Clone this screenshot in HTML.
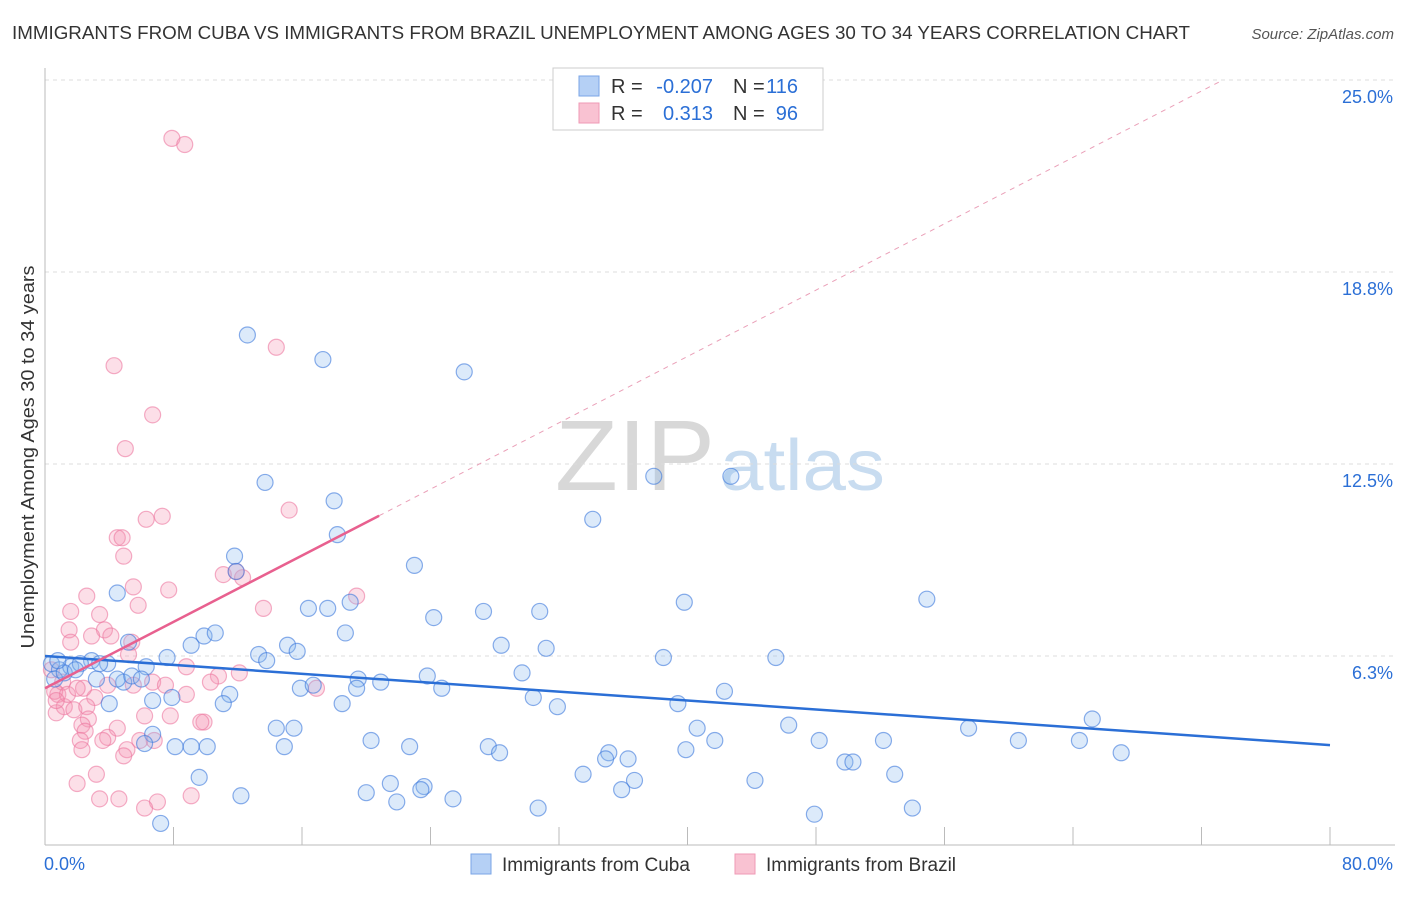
<!DOCTYPE html>
<html><head><meta charset="utf-8"><style>
body{margin:0;background:#fff;font-family:"Liberation Sans",sans-serif;}
svg text{font-family:"Liberation Sans",sans-serif;}
</style></head><body>
<svg id="chart" width="1406" height="892" xmlns="http://www.w3.org/2000/svg">
<text x="12" y="39" font-size="18" fill="#333" textLength="1178" lengthAdjust="spacingAndGlyphs">IMMIGRANTS FROM CUBA VS IMMIGRANTS FROM BRAZIL UNEMPLOYMENT AMONG AGES 30 TO 34 YEARS CORRELATION CHART</text>
<text x="1394" y="39" font-size="15" fill="#555" font-style="italic" text-anchor="end">Source: ZipAtlas.com</text>
<text x="555" y="490" font-size="100" fill="#d8d8d8" textLength="160" lengthAdjust="spacingAndGlyphs" font-family="Liberation Serif">ZIP</text>
<text x="720" y="490" font-size="72" fill="#c8dcf0" textLength="165" lengthAdjust="spacingAndGlyphs">atlas</text>
<g id="grid"></g><g id="axes"></g><g id="pts"></g><g id="lines"></g>
<text transform="translate(34,457) rotate(-90)" font-size="18" fill="#333" text-anchor="middle" textLength="383" lengthAdjust="spacingAndGlyphs">Unemployment Among Ages 30 to 34 years</text>
<g>
<rect x="553" y="68" width="270" height="62" fill="#fff" stroke="#ccc"/>
<rect x="579" y="76" width="20" height="20" fill="#b5d0f5" stroke="#7aa5e6"/>
<rect x="579" y="103" width="20" height="20" fill="#f9c2d2" stroke="#ef9ab5"/>
<text x="611" y="93" font-size="20" fill="#333">R =</text>
<text x="713" y="93" font-size="20" fill="#2b6fd6" text-anchor="end">-0.207</text>
<text x="733" y="93" font-size="20" fill="#333">N =</text>
<text x="798" y="93" font-size="20" fill="#2b6fd6" text-anchor="end">116</text>
<text x="611" y="120" font-size="20" fill="#333">R =</text>
<text x="713" y="120" font-size="20" fill="#2b6fd6" text-anchor="end">0.313</text>
<text x="733" y="120" font-size="20" fill="#333">N =</text>
<text x="798" y="120" font-size="20" fill="#2b6fd6" text-anchor="end">96</text>
</g>
<g>
<rect x="471" y="854" width="20" height="20" fill="#b5d0f5" stroke="#7aa5e6"/>
<text x="502" y="871" font-size="19" fill="#333">Immigrants from Cuba</text>
<rect x="735" y="854" width="20" height="20" fill="#f9c2d2" stroke="#ef9ab5"/>
<text x="766" y="871" font-size="19" fill="#333">Immigrants from Brazil</text>
</g>
</svg>
<script>
const yTicks=[25.0,18.8,12.5,6.3];
const yTickVals=[25,18.75,12.5,6.25];
const xTickLabels=["0.0%","80.0%"];
const cubaX=[12.6,17.3,26.1,13.7,18.0,18.2,34.1,37.9,42.7,11.8,11.9,23.0,4.5,16.4,17.6,19.0,24.2,27.3,30.8,39.8,54.9,9.9,10.6,9.1,5.2,18.7,15.1,15.7,13.3,13.8,7.6,6.3,2.9,3.9,28.4,31.2,38.5,45.5,29.7,19.5,20.9,23.8,15.9,16.7,19.4,24.7,11.5,7.9,4.9,4.0,6.7,11.1,18.5,30.4,31.9,39.4,42.3,14.4,15.5,40.6,46.3,57.5,65.2,6.7,6.2,8.1,9.1,10.1,14.9,20.3,22.7,27.6,28.3,35.1,34.9,36.3,39.9,41.7,48.2,49.8,50.3,52.2,60.6,64.4,67.0,9.6,21.5,23.6,23.4,33.5,36.7,44.2,52.9,12.2,20.0,21.9,25.4,35.9,30.7,47.9,54.0,7.2,0.4,0.9,1.6,2.2,0.6,1.2,3.2,4.5,5.4,6.0,0.8,1.9,3.4];
const cubaY=[16.7,15.9,15.5,11.9,11.3,10.2,10.7,12.1,12.1,9.5,9.0,9.2,8.3,7.8,7.8,8.0,7.5,7.7,7.7,8.0,8.1,6.9,7.0,6.6,6.7,7.0,6.6,6.4,6.3,6.1,6.2,5.9,6.1,6.0,6.6,6.5,6.2,6.2,5.7,5.5,5.4,5.6,5.2,5.3,5.2,5.2,5.0,4.9,5.4,4.7,4.8,4.7,4.7,4.9,4.6,4.7,5.1,3.9,3.9,3.9,4.0,3.9,4.2,3.7,3.4,3.3,3.3,3.3,3.3,3.5,3.3,3.3,3.1,3.1,2.9,2.9,3.2,3.5,3.5,2.8,2.8,3.5,3.5,3.5,3.1,2.3,2.1,2.0,1.9,2.4,2.2,2.2,2.4,1.7,1.8,1.5,1.6,1.9,1.3,1.1,1.3,0.8,6.0,5.8,5.9,6.0,5.5,5.7,5.5,5.5,5.6,5.5,6.1,5.8,6.0];
const brazilX=[7.9,8.7,14.4,4.3,6.7,5.0,7.3,6.3,15.2,4.5,4.8,4.9,11.1,12.3,11.9,5.5,7.7,2.6,19.4,5.8,1.6,3.4,13.6,1.5,3.7,4.1,2.9,5.4,1.6,5.2,8.8,10.8,12.1,6.7,5.5,7.5,8.8,10.3,16.9,3.9,3.1,2.4,0.8,1.2,1.8,2.6,0.7,6.2,7.8,9.9,2.7,2.3,4.5,2.5,3.9,2.2,3.6,5.9,6.8,2.3,5.1,4.9,3.2,2.0,3.4,4.6,7.0,9.1,6.2,9.7,0.4,1.1,0.6,1.4,0.7,2.0];
const brazilY=[23.1,22.9,16.3,15.7,14.1,13.0,10.8,10.7,11.0,10.1,10.1,9.5,8.9,8.8,9.0,8.5,8.4,8.2,8.2,7.9,7.7,7.6,7.8,7.1,7.1,6.9,6.9,6.7,6.7,6.3,5.9,5.6,5.7,5.4,5.3,5.3,5.0,5.4,5.2,5.3,4.9,5.2,5.0,4.6,4.5,4.6,4.4,4.3,4.3,4.1,4.2,4.0,3.9,3.8,3.6,3.5,3.5,3.5,3.5,3.2,3.2,3.0,2.4,2.1,1.6,1.6,1.5,1.7,1.3,4.1,5.8,5.4,5.1,5.0,4.8,5.2];
const cubaTrend=[6.25,3.35];      // value at x=0 and x=80
const brazilTrend=[5.2,0.27];     // intercept, slope
const NS="http://www.w3.org/2000/svg";
const X0=45,X1=1330,Y0=848;
const sx=v=>X0+(v/80)*(X1-X0);
const sy=v=>Y0-v*30.72;
function mk(tag,attrs,parent){const e=document.createElementNS(NS,tag);for(const k in attrs)e.setAttribute(k,attrs[k]);document.getElementById(parent).appendChild(e);return e;}
yTickVals.forEach((v,i)=>{
  const g=mk('line',{x1:X0,x2:1395,y1:sy(v),y2:sy(v),stroke:'#ddd','stroke-dasharray':'4,4'},'grid');
  
  
  const t=mk('text',{x:1393,y:sy(v)+23,'font-size':18,fill:'#2b6fd6','text-anchor':'end'},'grid');
  t.textContent=yTicks[i].toFixed(1)+'%';
  
  
});
let a=mk('line',{x1:X0,x2:X0,y1:68,y2:845,stroke:'#bbb'},'axes');


a=mk('line',{x1:X0,x2:1395,y1:845,y2:845,stroke:'#bbb'},'axes');


for(let i=1;i<=10;i++){
  const t=mk('line',{x1:sx(i*8),x2:sx(i*8),y1:827,y2:845,stroke:'#bbb'},'axes');
  
  
}
let tl=mk('text',{x:44,y:870,'font-size':18,fill:'#2b6fd6'},'axes');tl.textContent=xTickLabels[0];


tl=mk('text',{x:1393,y:870,'font-size':18,fill:'#2b6fd6','text-anchor':'end'},'axes');tl.textContent=xTickLabels[1];


brazilX.forEach((v,i)=>{
  const c=mk('circle',{cx:sx(v),cy:sy(brazilY[i]),r:8,fill:'rgba(244,150,180,0.3)',stroke:'rgba(236,120,160,0.6)','stroke-width':1.2},'pts');
  
  
});
cubaX.forEach((v,i)=>{
  const c=mk('circle',{cx:sx(v),cy:sy(cubaY[i]),r:8,fill:'rgba(140,185,240,0.3)',stroke:'rgba(60,120,220,0.6)','stroke-width':1.2},'pts');
  
  
});
let l=mk('line',{x1:sx(0),y1:sy(cubaTrend[0]),x2:sx(80),y2:sy(cubaTrend[1]),stroke:'#2b6fd6','stroke-width':2.5},'lines');


const xe=(25-brazilTrend[0])/brazilTrend[1];
l=mk('line',{x1:sx(20.8),y1:sy(brazilTrend[0]+brazilTrend[1]*20.8),x2:sx(xe),y2:sy(25),stroke:'#eaa0b8','stroke-width':1,'stroke-dasharray':'5,5'},'lines');


l=mk('line',{x1:sx(0),y1:sy(brazilTrend[0]),x2:sx(20.8),y2:sy(brazilTrend[0]+brazilTrend[1]*20.8),stroke:'#e8608f','stroke-width':2.5},'lines');


</script>
</body></html>
